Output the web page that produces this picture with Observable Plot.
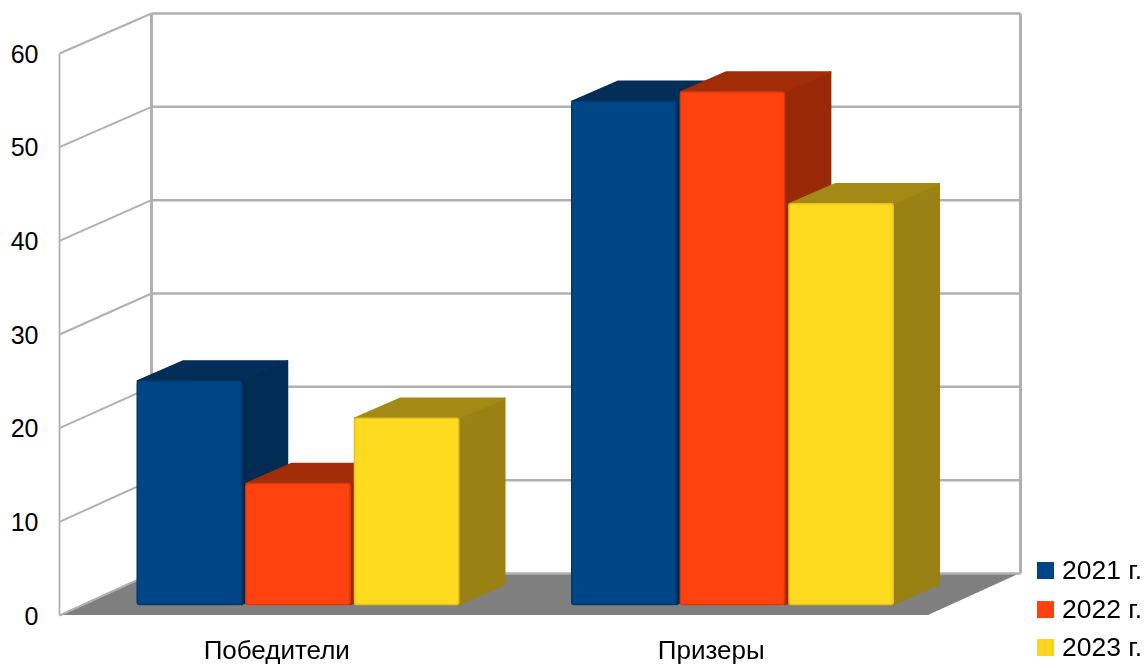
<!DOCTYPE html>
<html>
<head>
<meta charset="utf-8">
<script src="https://cdn.jsdelivr.net/npm/d3@7"></script>
<script src="https://cdn.jsdelivr.net/npm/@observablehq/plot@0.6"></script>
<style>
  html, body { margin: 0; padding: 0; background: #fff; }
  #chart { position: relative; width: 1147px; height: 664px; overflow: hidden; font-family: "Liberation Sans", Arial, sans-serif; }
  #chart svg { display: block; filter: blur(0.5px); }
  .legend-item { position: absolute; left: 1037px; display: flex; align-items: center; height: 26px; font-size: 26.5px; color: #000; white-space: nowrap; filter: blur(0.3px); }
  .legend-item i { display: block; width: 17px; height: 17px; margin-right: 8px; }
</style>
</head>
<body>
<div id="chart"></div>
<script>
const categories = ["Победители", "Призеры"];
const seriesNames = ["2021 г.", "2022 г.", "2023 г."];
const values2021 = [24, 54];
const values2022 = [13, 55];
const values2023 = [20, 43];
const yTicks = [0, 10, 20, 30, 40, 50, 60];

const frontColors = ["#004586", "#ff420e", "#ffd320"];
const edgeColors = ["#003a72", "#d8380c", "#e8bf1c"];
const topColors = ["#022e58", "#a02c08", "#a38a14"];
const sideColors = ["#002b53", "#992906", "#998113"];
const faceYellow = "#ffdb1f";

// Oblique projection expressed in scale units: a point at full depth is shifted by these amounts.
const depthX = 0.2117;
const depthY = 4.27;
const floorDepthY = 4.48, backFactor = 0.9965;
const barFront = 0.26, barBack = 0.76;
const barStep = 0.25, barWidth = 0.24, groupPad = 0.125;
const heightFactor = 0.995;
const backY = t => t * backFactor + floorDepthY;

const seriesValues = [values2021, values2022, values2023];
const marks = [];

// floor
marks.push(Plot.areaY([
  {x: 0, y1: 0, y2: 0},
  {x: depthX, y1: 0, y2: floorDepthY},
  {x: 2, y1: 0, y2: floorDepthY},
  {x: 2 + depthX, y1: floorDepthY, y2: floorDepthY}
], {x: "x", y1: "y1", y2: "y2", fill: "#7f7f7f", curve: "linear"}));

// walls and grid
const grid = {stroke: "#b0b0b0"};
marks.push(Plot.link(yTicks, {x1: 0, x2: depthX, y1: d => d, y2: d => backY(d), ...grid, strokeWidth: 2}));
marks.push(Plot.link(yTicks, {x1: depthX, x2: 2 + depthX, y1: d => backY(d), y2: d => backY(d), ...grid, strokeWidth: 2.5}));
marks.push(Plot.link([0], {x1: 0, x2: 0, y1: 0, y2: 60, ...grid, strokeWidth: 1.8}));
marks.push(Plot.link([depthX, 2 + depthX], {x1: d => d, x2: d => d, y1: backY(0), y2: backY(60), ...grid, strokeWidth: 3}));

// bars, drawn left to right so that each one hides the depth of the previous
categories.forEach((cat, c) => {
  seriesNames.forEach((name, s) => {
    const v = seriesValues[s][c] * heightFactor;
    const left = c + groupPad + s * barStep;
    const right = left + barWidth;
    const xAt = (u, d) => u + d * depthX;
    const yAt = (w, d) => w + d * depthY;

    // right side face
    marks.push(Plot.areaY([
      {x: xAt(right, barFront), y1: yAt(0, barFront), y2: yAt(v, barFront)},
      {x: xAt(right, barBack), y1: yAt(0, barBack), y2: yAt(v, barBack)}
    ], {x: "x", y1: "y1", y2: "y2", fill: sideColors[s], stroke: sideColors[s], strokeWidth: 1.5, strokeLinejoin: "round", curve: "linear"}));

    // top face
    marks.push(Plot.areaY([
      {x: xAt(left, barFront), y1: yAt(v, barFront), y2: yAt(v, barFront)},
      {x: xAt(left, barBack), y1: yAt(v, barFront), y2: yAt(v, barBack)},
      {x: xAt(right, barFront), y1: yAt(v, barFront), y2: yAt(v, barBack)},
      {x: xAt(right, barBack), y1: yAt(v, barBack), y2: yAt(v, barBack)}
    ], {x: "x", y1: "y1", y2: "y2", fill: topColors[s], stroke: topColors[s], strokeWidth: 1.5, strokeLinejoin: "round", curve: "linear"}));

    // front face
    marks.push(Plot.rect([0], {
      x1: () => xAt(left, barFront),
      x2: () => xAt(right, barFront),
      y1: () => yAt(0, barFront),
      y2: () => yAt(v, barFront),
      fill: s === 2 ? faceYellow : frontColors[s],
      stroke: edgeColors[s],
      strokeWidth: 1.5,
      rx: 2.5
    }));
  });
});

// axes
marks.push(Plot.axisY(yTicks, {
  tickSize: 0, tickPadding: 0, dx: -21, dy: 1, label: null, anchor: "left",
  fontSize: 25, fill: "#000"
}));
marks.push(Plot.axisX([0.5, 1.5], {
  tickSize: 0, tickPadding: 0, label: null, anchor: "bottom", dy: 25,
  tickFormat: d => categories[Math.floor(d)], fontSize: 26, fill: "#000"
}));

const plot = Plot.plot({
  width: 1147,
  height: 664,
  marginLeft: 59,
  marginRight: 219,
  marginTop: 53,
  marginBottom: 49,
  x: {domain: [0, 2], range: [59, 928], axis: null},
  y: {domain: [0, 60], range: [615, 53], axis: null},
  style: {background: "#fff", overflow: "visible", fontFamily: "'Liberation Sans', Arial, sans-serif"},
  marks
});

const chart = document.getElementById("chart");
chart.appendChild(plot);

const legendTops = [557, 596, 634];
seriesNames.forEach((name, s) => {
  const item = document.createElement("div");
  item.className = "legend-item";
  item.style.top = legendTops[s] + "px";
  const swatch = document.createElement("i");
  swatch.style.background = frontColors[s];
  item.appendChild(swatch);
  item.appendChild(document.createTextNode(name));
  chart.appendChild(item);
});
</script>
</body>
</html>
